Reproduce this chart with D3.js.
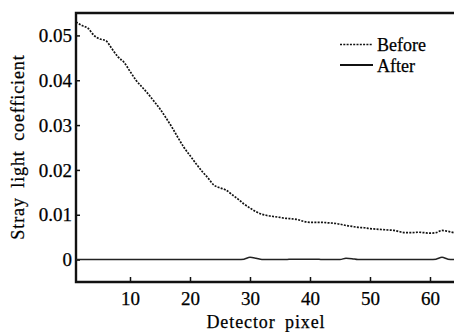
<!DOCTYPE html>
<html><head><meta charset="utf-8">
<script src="https://cdn.jsdelivr.net/npm/d3@7"></script>
<style>body{margin:0;background:#fff;} svg{display:block;}</style>
</head><body>
<svg id="c" width="454" height="332"></svg>
<script>
const pixels = d3.range(1, 65);
const beforeVals = [0.0530,0.0522,0.0516,0.0500,0.0492,0.0488,0.0470,0.0452,0.0440,0.0420,
0.0400,0.0385,0.0370,0.0353,0.0336,0.0316,0.0295,0.0272,0.0250,0.0232,
0.0214,0.0197,0.0182,0.0166,0.0160,0.0155,0.0145,0.0135,0.0124,0.0115,
0.0107,0.0101,0.0098,0.0096,0.0094,0.0092,0.0091,0.0089,0.0085,0.0083,
0.0083,0.0083,0.0082,0.0081,0.0079,0.0076,0.0074,0.0072,0.0071,0.0069,
0.0068,0.0067,0.0066,0.0065,0.0062,0.0060,0.0060,0.0061,0.0060,0.0059,
0.0060,0.0065,0.0063,0.0060];
const afterVals = [0,0,0,0,0,0,0,0,0,0,
0,0,0,0,0,0,0,0,0,0,
0,0,0,0,0,0,0,0,0.0001,0.0005,
0.0003,0,0,0,0,0,0.0001,0.0001,0.0001,0.0001,
0.0001,0,0,0,0,0.0003,0.0002,0,0,0,
0,0,0,0,0,0,0,0,0,0,
0.0001,0.0005,0.0001,0];
const xTicks = [10,20,30,40,50,60];
const yTicks = [0,0.01,0.02,0.03,0.04,0.05];
const yTickLabels = ["0","0.01","0.02","0.03","0.04","0.05"];
const seriesNames = ["Before","After"];

const svg = d3.select("#c");
const font = "'Liberation Serif','Times New Roman',serif";
const L = 76, R = 454, T = 13, B = 282;
const x = d3.scaleLinear().domain([1,64]).range([L, R]);
const y = d3.scaleLinear().domain([-0.005,0.055]).range([B, T]);

function styleText(sel, size){
  sel.attr("font-family",font).attr("font-size",size).attr("fill","#000")
     .attr("stroke","#000").attr("stroke-width",0.25);
}

// axes
const xAxis = d3.axisBottom(x).tickValues(xTicks).tickSize(-5).tickPadding(10).tickFormat(d3.format("d"));
const gx = svg.append("g").attr("transform",`translate(0,${B})`).call(xAxis);
gx.select(".domain").remove();
gx.selectAll(".tick line").attr("stroke","#111").attr("stroke-width",1.5);
styleText(gx.selectAll("text"), 19);

const yAxis = d3.axisLeft(y).tickValues(yTicks).tickSize(-4).tickPadding(4).tickFormat((d,i)=>yTickLabels[i]);
const gy = svg.append("g").attr("transform",`translate(${L},0)`).call(yAxis);
gy.select(".domain").remove();
gy.selectAll(".tick line").attr("stroke","#111").attr("stroke-width",1.5);
styleText(gy.selectAll("text"), 19);

// frame
svg.append("path").attr("d",`M${R},${T}H${L}V${B}H${R}`).attr("fill","none").attr("stroke","#111").attr("stroke-width",2.4);

const line = d3.line().x((d,i)=>x(pixels[i])).y(d=>y(d)).curve(d3.curveMonotoneX);
svg.append("path").datum(beforeVals).attr("d",line).attr("fill","none")
  .attr("stroke","#111").attr("stroke-width",1.7).attr("stroke-dasharray","2,1.3");
svg.append("path").datum(afterVals).attr("d",line).attr("fill","none")
  .attr("stroke","#222").attr("stroke-width",1.5);

// legend
const lg = svg.append("g");
lg.append("line").attr("x1",340).attr("x2",373).attr("y1",44.5).attr("y2",44.5)
  .attr("stroke","#111").attr("stroke-width",1.6).attr("stroke-dasharray","2,1.3");
lg.append("line").attr("x1",340).attr("x2",373).attr("y1",65).attr("y2",65)
  .attr("stroke","#111").attr("stroke-width",1.8);
styleText(lg.selectAll("text.lt").data(seriesNames).join("text").attr("class","lt")
  .attr("x",377).attr("y",(d,i)=>51+i*20.5).text(d=>d), 18);

// axis titles
styleText(svg.append("text").attr("x",266).attr("y",328).attr("text-anchor","middle")
  .attr("word-spacing",4).attr("letter-spacing",0.9)
  .text("Detector pixel"), 18);
styleText(svg.append("text").attr("transform","translate(24,147) rotate(-90)").attr("text-anchor","middle")
  .attr("word-spacing",4).attr("letter-spacing",0.9)
  .text("Stray light coefficient"), 18);
</script>
</body></html>
